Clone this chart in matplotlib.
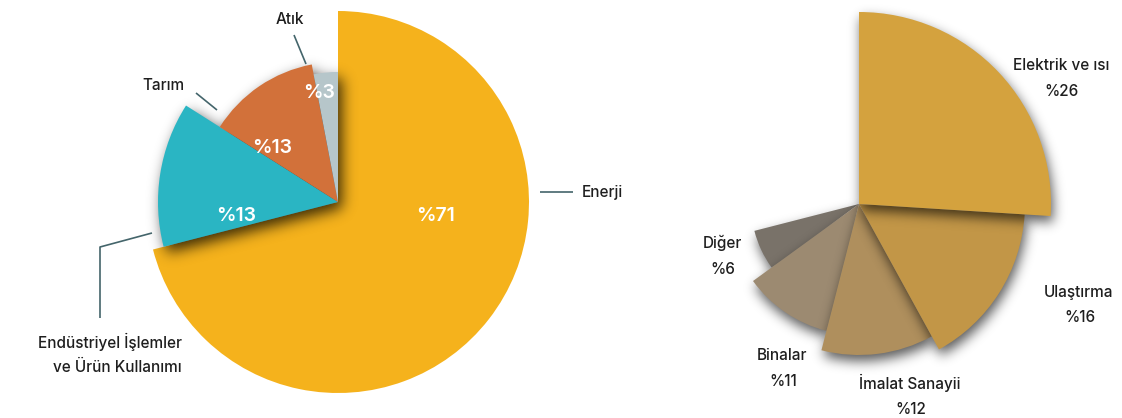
import numpy as np
import matplotlib
matplotlib.use("Agg")
import matplotlib.pyplot as plt

plt.rcParams['font.family'] = ['Inter', 'DejaVu Sans']

# sera gazı emisyonları - sektörlere göre
sektorler = ["Enerji", "Endüstriyel İşlemler\nve Ürün Kullanımı", "Tarım", "Atık"]
sektor_pay = [71, 13, 13, 3]

# enerji kaynaklı emisyonların alt dağılımı
enerji_alt = ["Elektrik ve ısı", "Ulaştırma", "İmalat Sanayii", "Binalar", "Diğer"]
enerji_pay = [26, 16, 12, 11, 6]

# görünüm ayarları
W, H = 1122, 418
sol_merkez = (338, H - 202)
sag_merkez = (859, H - 204)
sol_yaricap = [191, 180, 140, 130]
sag_yaricap = [192, 166, 151, 131, 108]
sol_renk = ["#F5B21C", "#2AB5C3", "#D2713A", "#B6C6CA"]
sag_renk = ["#D4A23E", "#C29647", "#AF8F5D", "#9C8A71", "#797269"]
yazi_renk = "#1E1E1E"
cizgi_renk = "#44656B"

fig = plt.figure(figsize=(W / 100, H / 100), dpi=100)
ax = fig.add_axes([0, 0, 1, 1])

yy, xx = np.mgrid[0:H, 0:W] + 0.5


def dilim_maske(w):
    cx, cy = w.center
    aci = np.degrees(np.arctan2(yy - cy, xx - cx))
    icinde = np.mod(aci - w.theta1, 360) <= (w.theta2 - w.theta1)
    return (np.hypot(xx - cx, yy - cy) <= w.r) & icinde


def bulanik(a, s):
    k = np.exp(-0.5 * (np.arange(-3 * s, 3 * s + 1) / s) ** 2)
    k /= k.sum()
    a = np.apply_along_axis(lambda v: np.convolve(v, k, 'same'), 0, a)
    a = np.apply_along_axis(lambda v: np.convolve(v, k, 'same'), 1, a)
    return a


def golge(maske, z, dx=3, dy=5, s=6, guc=0.55):
    m = np.roll(maske.astype(float), (-dy, dx), axis=(0, 1))
    m = bulanik(m, s)
    rgba = np.zeros((H, W, 4))
    rgba[..., 3] = np.clip(m * guc, 0, 1)
    ax.imshow(rgba, extent=(0, W, 0, H), origin='lower', zorder=z,
              interpolation='bilinear')


# sol pasta
sol, _ = ax.pie(np.array(sektor_pay) / 100, normalize=False, center=sol_merkez,
                startangle=90, counterclock=False, colors=sol_renk,
                wedgeprops=dict(linewidth=0))
for w, r in zip(sol, sol_yaricap):
    w.set_radius(r)
sol[0].set_zorder(1)
for w in sol[1:]:
    w.set_zorder(3)
golge(dilim_maske(sol[1]) | dilim_maske(sol[2]) | dilim_maske(sol[3]), 2,
      dx=4, dy=6, s=7, guc=0.75)

# sağ pasta
sag, _ = ax.pie(np.array(enerji_pay) / 100, normalize=False, center=sag_merkez,
                startangle=90, counterclock=False, colors=sag_renk,
                wedgeprops=dict(linewidth=0))
for i, (w, r) in enumerate(zip(sag, sag_yaricap)):
    w.set_radius(r)
    z = 2 * (len(sag) - i) + 10
    w.set_zorder(z)
    golge(dilim_maske(w), z - 1, dx=2, dy=6, s=6, guc=0.65)

ax.set_xlim(0, W)
ax.set_ylim(0, H)
ax.set_aspect('equal')
ax.axis('off')


def yaz(x, y, s, **kw):
    ax.text(x, H - y, s, ha='center', va='center', zorder=30, **kw)


def cizgi(xs, ys):
    ax.plot(xs, [H - y for y in ys], color=cizgi_renk, lw=1.2, zorder=30,
            solid_capstyle='butt')


# sol etiketler
yaz(290, 20, sektorler[3], fontsize=11, color=yazi_renk, fontweight='medium')
cizgi([294, 306], [35, 64])
yaz(163, 85, sektorler[2], fontsize=11, color=yazi_renk, fontweight='medium')
cizgi([196, 217], [93, 110])
ax.text(182, H - 354, sektorler[1], ha='right', va='center', fontsize=11,
        color=yazi_renk, fontweight='medium', linespacing=1.75, zorder=30)
cizgi([152, 100, 100], [233, 247, 318])
ax.text(582, H - 192, sektorler[0], ha='left', va='center', fontsize=11,
        color=yazi_renk, fontweight='medium', zorder=30)
cizgi([540, 573], [192, 192])

yaz(436, 216, f"%{sektor_pay[0]}", fontsize=14, color='white', fontweight='semibold')
yaz(236, 216, f"%{sektor_pay[1]}", fontsize=14, color='white', fontweight='semibold')
yaz(272, 148, f"%{sektor_pay[2]}", fontsize=14, color='white', fontweight='semibold')
yaz(319, 93, f"%{sektor_pay[3]}", fontsize=14, color='white', fontweight='semibold')

# sağ etiketler
sag_konum = [(1061, 65), (1079, 292), (910, 383), (782, 355), (722, 243)]
for ad, pay, (x, y) in zip(enerji_alt, enerji_pay, sag_konum):
    yaz(x, y, ad, fontsize=11, color=yazi_renk, fontweight='medium')
    yaz(x + 1, y + 26, f"%{pay}", fontsize=11, color=yazi_renk, fontweight='medium')

fig.savefig("out.png", dpi=100)
